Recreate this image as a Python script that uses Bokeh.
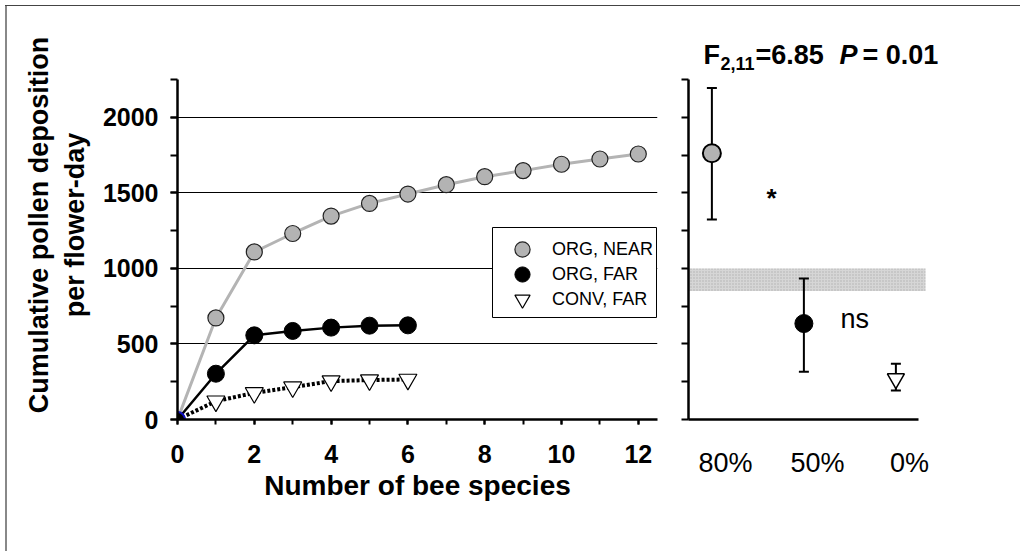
import math
from bokeh.plotting import figure
from bokeh.models import (ColumnDataSource, SingleIntervalTicker, FixedTicker, Legend, LegendItem,
                          Label, Whisker, TeeHead, BoxAnnotation, Range1d, Spacer)
from bokeh.layouts import row, column
from bokeh.transform import dodge
from bokeh.embed import file_html
from bokeh.resources import INLINE

# ---------------- data ----------------
species_near = list(range(13))
org_near = [0, 672, 1109, 1231, 1346, 1430, 1492, 1554, 1607, 1647, 1689, 1724, 1757]
species_far = list(range(7))
org_far = [0, 303, 557, 586, 608, 621, 623]
conv_far = [0, 121, 176, 214, 254, 261, 265]
series_labels = ["ORG, NEAR", "ORG, FAR", "CONV, FAR"]

categories = ["80%", "50%", "0%"]
cat_mean = [1762, 635, 270]
cat_upper = [2194, 933, 369]
cat_lower = [1324, 316, 192]
band_low, band_high = 850, 1000

FONT = "Liberation Sans"
GRAY_LINE = "#b4b4b4"
GRAY_FILL = "#b3b3b3"
Y_MAX = 2250

# page frame (thin lines on left/top) shifts the canvases by OFF_X / OFF_Y
OFF_X, OFF_Y = 7, 6
# shared vertical geometry (frame from 30 px to 419 px, axes drawn up to Y_MAX at 79 px)
TOP_PX, BOTTOM_PX, AXIS_TOP_PX = 30 - OFF_Y, 419 - OFF_Y, 79 - OFF_Y
FIG_H = 545 - OFF_Y
Y_TOP = Y_MAX * (BOTTOM_PX - TOP_PX) / (BOTTOM_PX - AXIS_TOP_PX)

# ---------------- left panel ----------------
p1 = figure(width=668 - OFF_X, height=FIG_H, output_backend="svg", toolbar_location=None,
            x_range=Range1d(0, 12.5), y_range=Range1d(0, Y_TOP),
            min_border_left=177 - OFF_X, min_border_right=11, min_border_top=TOP_PX,
            min_border_bottom=FIG_H - BOTTOM_PX)
p1.outline_line_color = None
p1.border_fill_color = "white"

p1.xgrid.visible = False
p1.ygrid.ticker = SingleIntervalTicker(interval=500)
p1.ygrid.bounds = (0, Y_MAX)
p1.ygrid.grid_line_color = "black"
p1.ygrid.grid_line_width = 1

xa = p1.xaxis[0]
xa.ticker = SingleIntervalTicker(interval=2, num_minor_ticks=2)
ya = p1.yaxis[0]
ya.ticker = SingleIntervalTicker(interval=500, num_minor_ticks=2)
ya.bounds = (0, Y_MAX)
for ax in (xa, ya):
    ax.axis_line_width = 2.5
    ax.axis_line_color = "black"
    ax.major_tick_line_width = 2
    ax.minor_tick_line_width = 2
    ax.major_tick_in = 0
    ax.minor_tick_in = 0
    ax.major_label_text_font = FONT
    ax.major_label_text_font_style = "bold"
    ax.major_label_text_font_size = "25px"
    ax.major_label_text_color = "black"
    ax.axis_label_text_font = FONT
    ax.axis_label_text_font_style = "bold"
    ax.axis_label_text_color = "black"
xa.major_tick_out = 5
xa.minor_tick_out = 5
xa.major_label_standoff = 20
xa.axis_label = "Number of bee species"
xa.axis_label_text_font_size = "28px"
xa.axis_label_standoff = 4
ya.major_tick_out = 7
ya.minor_tick_out = 7
ya.major_label_standoff = 12
ya.axis_label = "Cumulative pollen deposition\nper flower-day"
ya.axis_label_text_font_size = "27px"
ya.axis_label_standoff = 10

# lines
p1.line(species_near, org_near, line_color=GRAY_LINE, line_width=3)
p1.line(species_far, org_far, line_color="black", line_width=2.5)
p1.line(species_far, conv_far, line_color="black", line_width=4, line_dash="3 2")

# markers
r_near = p1.scatter(species_near[1:], org_near[1:], marker="circle", size=16,
                    fill_color=GRAY_FILL, line_color="#222222", line_width=1.2)
r_far = p1.scatter(species_far[1:], org_far[1:], marker="circle", size=17,
                   fill_color="black", line_color="black", line_width=1)
r_conv = p1.scatter(species_far[1:], conv_far[1:], marker="inverted_triangle", size=18,
                    fill_color="white", line_color="black", line_width=1.2)
p1.scatter([species_near[0]], [org_near[0]], marker="circle", size=15,
           fill_color="black", line_color="#1010c0", line_width=2)

# legend: framed box + one single-entry legend per series (rows 25 px apart)
p1.add_layout(BoxAnnotation(left=315, right=479, bottom=102, top=192,
                            left_units="screen", right_units="screen",
                            bottom_units="screen", top_units="screen",
                            fill_color="white", fill_alpha=1,
                            line_color="black", line_width=1, line_alpha=1))
for i, (lbl, rend) in enumerate(zip(series_labels, [r_near, r_far, r_conv])):
    p1.add_layout(Legend(items=[LegendItem(label=lbl, renderers=[rend])],
                         location=(319, 151 - 25 * i), orientation="vertical",
                         glyph_width=52, glyph_height=38, padding=0, margin=0, spacing=0,
                         label_standoff=4, label_height=20,
                         label_text_font=FONT, label_text_font_size="18px",
                         label_text_color="black",
                         border_line_color=None, background_fill_alpha=0))

# ---------------- right panel ----------------
cat_x = [i + 1 for i in range(len(categories))]
PX_PER_UNIT = 92.0
X0 = 1 - 37 / PX_PER_UNIT          # frame left (y axis)
X_AXIS_END = 3 + 9 / PX_PER_UNIT   # end of drawn x axis
X_BAND_END = 3 + 16 / PX_PER_UNIT  # end of shaded band
X1 = 3 + 51 / PX_PER_UNIT          # frame right (room for title)

p2 = figure(width=352, height=FIG_H, output_backend="svg", toolbar_location=None,
            x_range=Range1d(X0, X1), y_range=Range1d(0, Y_TOP),
            min_border_left=20, min_border_right=60, min_border_top=TOP_PX,
            min_border_bottom=FIG_H - BOTTOM_PX)
p2.outline_line_color = None
p2.grid.visible = False
p2.border_fill_color = "white"

xa2 = p2.xaxis[0]
xa2.bounds = (X0, X_AXIS_END)
xa2.ticker = FixedTicker(ticks=cat_x)
xa2.major_label_overrides = {x: c for x, c in zip(cat_x, categories)}
xa2.major_tick_out = 0
xa2.major_tick_in = 0
xa2.minor_tick_out = 0
xa2.minor_tick_in = 0
xa2.axis_line_width = 2.5
xa2.major_label_standoff = 28
xa2.major_label_text_font = FONT
xa2.major_label_text_font_size = "27px"
xa2.major_label_text_color = "black"

ya2 = p2.yaxis[0]
ya2.bounds = (0, Y_MAX)
ya2.ticker = SingleIntervalTicker(interval=250, num_minor_ticks=0)
ya2.axis_line_width = 2.5
ya2.major_tick_out = 7
ya2.major_tick_in = 0
ya2.minor_tick_out = 0
ya2.major_tick_line_width = 2
ya2.major_label_text_font_size = "0px"
ya2.major_label_standoff = 0

band = BoxAnnotation(bottom=band_low, top=band_high, right=X_BAND_END,
                     fill_color="#d6d6d6", fill_alpha=1,
                     hatch_pattern="dot", hatch_color="#b0b0b0", hatch_scale=3, hatch_weight=1,
                     line_color=None, level="underlay")
p2.add_layout(band)

src = ColumnDataSource(dict(x=cat_x, mean=cat_mean, upper=cat_upper, lower=cat_lower))
xd = dodge("x", -0.148, range=p2.x_range)
p2.add_layout(Whisker(base=xd, upper="upper", lower="lower", source=src, dimension="height",
                      line_width=2, line_color="black",
                      upper_head=TeeHead(size=10, line_width=2, line_color="black"),
                      lower_head=TeeHead(size=10, line_width=2, line_color="black")))

s0 = ColumnDataSource(dict(x=cat_x[0:1], y=cat_mean[0:1]))
s1 = ColumnDataSource(dict(x=cat_x[1:2], y=cat_mean[1:2]))
s2 = ColumnDataSource(dict(x=cat_x[2:3], y=cat_mean[2:3]))
p2.scatter(x=xd, y="y", source=s0, marker="circle", size=18, fill_color=GRAY_FILL,
           line_color="black", line_width=2)
p2.scatter(x=xd, y="y", source=s1, marker="circle", size=18, fill_color="black",
           line_color="black", line_width=1)
p2.scatter(x=xd, y="y", source=s2, marker="inverted_triangle", size=17, fill_color="white",
           line_color="black", line_width=1.5)

def lab(x, y, text, size, style="bold", align="left"):
    p2.add_layout(Label(x=x, y=y, x_units="screen", y_units="screen", text=text,
                        text_align=align, text_baseline="alphabetic", text_font=FONT,
                        text_font_style=style, text_font_size=size, text_color="black"))

lab(15, 365, "F", "27px")
lab(32, 356, "2,11", "18px")
lab(67, 365, "=6.85", "27px")
lab(151, 365, "P", "27px", style="bold italic")
lab(174, 365, "= 0.01", "27px")
lab(83, 222, "*", "26px", align="center")
lab(152, 101, "ns", "27px", style="normal")

# page frame lines (left and top) built from plain layout spacers
content_w = (668 - OFF_X) + 352
top_line = Spacer(width=content_w + 2, height=1, styles={"background-color": "#444444"})
left_line = Spacer(width=2, height=FIG_H + 6, styles={"background-color": "#888888"})
layout = column(Spacer(width=10, height=OFF_Y - 1),
                row(Spacer(width=OFF_X - 2, height=10),
                    column(top_line, row(left_line, p1, p2))))
open("out.html", "w").write(file_html(layout, INLINE))
